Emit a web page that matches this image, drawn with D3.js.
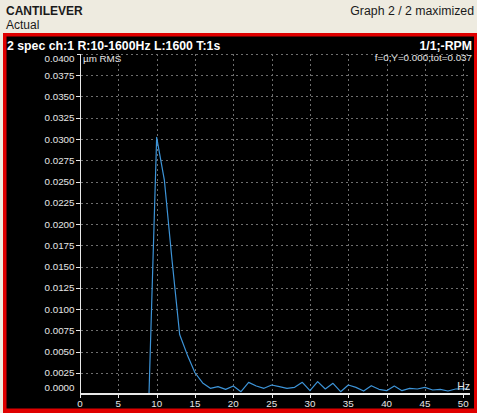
<!DOCTYPE html>
<html>
<head>
<meta charset="utf-8">
<script src="https://cdn.jsdelivr.net/npm/d3@7"></script>
<style>
  html, body { margin: 0; padding: 0; background: #eeebe0; }
  svg { display: block; }
  text { font-family: "Liberation Sans", Arial, sans-serif; }
</style>
</head>
<body>
<svg id="chart" width="477" height="413"></svg>
<script>
// Spectrum of channel 1, one value per 1 Hz line (µm RMS)
const freqs = d3.range(0, 52);
const amplitudes = [
  0, 0, 0, 0, 0, 0, 0, 0, 0, 0,            // 0–9 Hz (below analysis range)
  0.0302, 0.0252, 0.0158, 0.0070, 0.0046,  // 10–14 Hz
  0.0025, 0.0013, 0.00067, 0.00086, 0.00055, // 15–19 Hz
  0.00094, 0.00027, 0.00137, 0.00094, 0.00067, // 20–24 Hz
  0.00106, 0.00086, 0.00067, 0.00078, 0.00137, // 25–29 Hz
  0.00039, 0.00145, 0.00059, 0.00126, 0.00027, // 30–34 Hz
  0.00106, 0.00078, 0.00035, 0.00098, 0.00055, // 35–39 Hz
  0.00039, 0.00094, 0.00039, 0.00067, 0.00059, // 40–44 Hz
  0.00078, 0.00047, 0.00055, 0.00035, 0.00059, // 45–49 Hz
  0.00060, 0.00055                             // 50–51 Hz
];
const yTicks = d3.range(0, 17).map(i => +(i * 0.0025).toFixed(4));
const xTicks = [0, 5, 10, 15, 20, 25, 30, 35, 40, 45, 50];

const headerTitle = "CANTILEVER";
const headerSub = "Actual";
const headerRight = "Graph 2 / 2 maximized";
const graphTitle = "2 spec ch:1 R:10-1600Hz L:1600 T:1s";
const graphRight = "1/1;-RPM";
const cursorInfo = "f=0;Y=0.000;tot=0.037";
const yUnit = "µm RMS";
const xUnit = "Hz";

const svg = d3.select("#chart");

// Page header
svg.append("text").attr("x", 6).attr("y", 15).attr("font-size", 12)
  .attr("font-weight", "bold").attr("fill", "#1a1a1a").text(headerTitle);
svg.append("text").attr("x", 6).attr("y", 28.5).attr("font-size", 12)
  .attr("fill", "#1a1a1a").text(headerSub);
svg.append("text").attr("x", 474).attr("y", 15).attr("font-size", 12.3)
  .attr("text-anchor", "end").attr("fill", "#1a1a1a").text(headerRight);

// Graph panel with red selection frame
svg.append("rect").attr("x", 3).attr("y", 33).attr("width", 474).attr("height", 380)
  .attr("fill", "#e00000");
svg.append("rect").attr("x", 6.5).attr("y", 36.5).attr("width", 467.5).attr("height", 372)
  .attr("fill", "#000");

svg.append("text").attr("x", 7).attr("y", 49.5).attr("font-size", 12.3)
  .attr("font-weight", "bold").attr("fill", "#fff").text(graphTitle);
svg.append("text").attr("x", 472).attr("y", 49.5).attr("font-size", 12.3)
  .attr("font-weight", "bold").attr("text-anchor", "end").attr("fill", "#fff").text(graphRight);

// Scales
const x = d3.scaleLinear().domain([0, 50]).range([80, 463.3]);
const y = d3.scaleLinear().domain([0, 0.04]).range([394, 54]);
const plotRight = 470;

// Grid
const grid = svg.append("g").attr("stroke", "#6e6e6e").attr("stroke-width", 1)
  .attr("stroke-dasharray", "2,3").attr("shape-rendering", "crispEdges");
grid.selectAll("line.h").data(yTicks.filter(v => v > 0)).join("line")
  .attr("class", "h")
  .attr("x1", 81).attr("x2", plotRight)
  .attr("y1", d => Math.round(y(d)) + 0.5).attr("y2", d => Math.round(y(d)) + 0.5);
grid.selectAll("line.v").data(xTicks.filter(v => v > 0)).join("line")
  .attr("class", "v")
  .attr("x1", d => Math.round(x(d)) + 0.5).attr("x2", d => Math.round(x(d)) + 0.5)
  .attr("y1", y(0.04)).attr("y2", y(0));

// Spectrum line
const clip = svg.append("clipPath").attr("id", "plotclip");
clip.append("rect").attr("x", 80).attr("y", 50).attr("width", plotRight - 80).attr("height", 345);
const line = d3.line().x((d, i) => x(freqs[i])).y(d => y(d));
svg.append("path").datum(amplitudes)
  .attr("clip-path", "url(#plotclip)")
  .attr("d", line)
  .attr("fill", "none").attr("stroke", "#3d94d8").attr("stroke-width", 1.2)
  .attr("stroke-linejoin", "round");

// Axes
const axisColor = "#e8e8e8";
const ax = svg.append("g").attr("stroke", axisColor).attr("shape-rendering", "crispEdges");
ax.append("line").attr("x1", 80.5).attr("x2", 80.5).attr("y1", y(0.04)).attr("y2", y(0) + 1)
  .attr("stroke-width", 1.5);
ax.append("line").attr("x1", 77).attr("x2", 81).attr("y1", Math.round(y(0.04)) + 0.5)
  .attr("y2", Math.round(y(0.04)) + 0.5);
ax.append("line").attr("x1", 80).attr("x2", plotRight).attr("y1", y(0)).attr("y2", y(0))
  .attr("stroke-width", 2);
ax.selectAll("line.yt").data(yTicks.filter(v => v > 0 && v < 0.04)).join("line")
  .attr("class", "yt")
  .attr("x1", 76).attr("x2", 80)
  .attr("y1", d => Math.round(y(d)) + 0.5).attr("y2", d => Math.round(y(d)) + 0.5);
ax.selectAll("line.xt").data(xTicks).join("line")
  .attr("class", "xt")
  .attr("x1", d => Math.round(x(d)) + 0.5).attr("x2", d => Math.round(x(d)) + 0.5)
  .attr("y1", y(0)).attr("y2", y(0) + 4);

// Tick labels
svg.selectAll("text.yl").data(yTicks).join("text")
  .attr("class", "yl")
  .attr("x", 74.5)
  .attr("y", d => Math.min(Math.max(y(d), 58), 387) + 3.5)
  .attr("font-size", 9.8).attr("text-anchor", "end").attr("fill", "#e6e6e6")
  .text(d => d.toFixed(4));
svg.selectAll("text.xl").data(xTicks).join("text")
  .attr("class", "xl")
  .attr("x", d => x(d))
  .attr("y", 406.5)
  .attr("font-size", 9.8).attr("text-anchor", "middle").attr("fill", "#e6e6e6")
  .text(d => d);

// Units and cursor readout
svg.append("text").attr("x", 83).attr("y", 61.5).attr("font-size", 9.8)
  .attr("fill", "#e6e6e6").text(yUnit);
svg.append("text").attr("x", 470).attr("y", 390).attr("font-size", 10.5)
  .attr("text-anchor", "end").attr("fill", "#e6e6e6").text(xUnit);
svg.append("text").attr("x", 472).attr("y", 61).attr("font-size", 9.8)
  .attr("text-anchor", "end").attr("fill", "#e6e6e6").text(cursorInfo);
</script>
</body>
</html>
